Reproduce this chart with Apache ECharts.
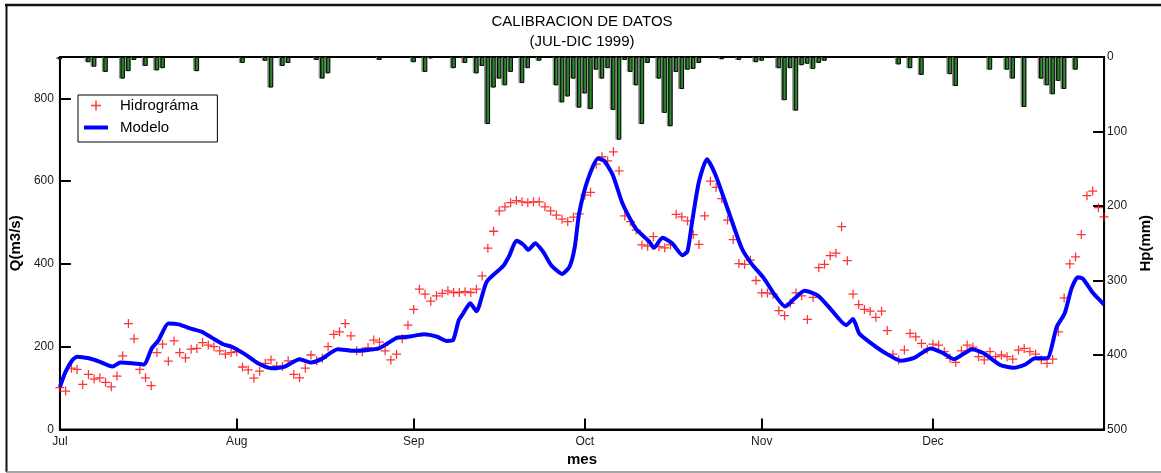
<!DOCTYPE html>
<html>
<head>
<meta charset="utf-8">
<script src="https://cdn.jsdelivr.net/npm/echarts@6/dist/echarts.min.js"></script>
<style>
  html, body { margin: 0; padding: 0; background: #fff; }
  #chart { width: 1161px; height: 473px; }
</style>
</head>
<body>
<div id="chart"></div>
<script>
// Day index counted from 1 July 1999 (0) to 31 December 1999 (183)
const monthStarts = [0, 31, 62, 92, 123, 153];
const monthNames = ['Jul', 'Aug', 'Sep', 'Oct', 'Nov', 'Dec'];
const qTicks = [0, 200, 400, 600, 800];

// Observed discharge (m3/s), one value per day
const observedQ = [
  101, 93, 148, 145, 109, 133, 122, 125, 114, 103,
  129, 178, 256, 219, 145, 125, 106, 186, 206, 165,
  214, 186, 173, 194, 196, 210, 204, 200, 190, 182,
  186, 188, 151, 144, 124, 141, 160, 168, 154, 152,
  166, 133, 125, 148, 180, 166, 172, 200, 230, 236,
  256, 226, 190, 188, 198, 216, 211, 190, 168, 182,
  219, 252, 290, 339, 327, 310, 323, 329, 335, 331,
  331, 333, 331, 339, 371, 438, 479, 528, 538, 548,
  553, 550, 548, 550, 550, 538, 528, 518, 508, 502,
  513, 521, 566, 573, 641, 659, 649, 671, 625, 516,
  502, 482, 446, 443, 466, 442, 439, 446, 520, 514,
  504, 471, 447, 516, 600, 585, 558, 506, 459, 401,
  399, 409, 360, 330, 330, 327, 287, 275, 305, 330,
  323, 266, 319, 391, 399, 420, 426, 490, 408, 327,
  302, 290, 286, 271, 286, 239, 182, 168, 192, 232,
  224, 208, 194, 206, 204, 188, 172, 162, 190, 204,
  199, 176, 168, 188, 176, 180, 176, 170, 192, 196,
  188, 182, 168, 160, 170, 236, 318, 400, 417, 471,
  565, 576, 536, 514
];

// Simulated discharge (m3/s): day positions and values
const modelDays = [
  0, 1, 2.2, 3, 5.1, 6.9, 9.2, 10.6, 12.7, 14.7,
  16.1, 17.3, 19, 20.8, 23.1, 24.9, 26.6, 28.6, 30.1, 32.4,
  34.7, 37.1, 39.4, 42, 44, 45.8, 48.7, 51.6, 53.9, 55.9,
  57.4, 59.1, 61, 63.8, 66.1, 67.8, 68.9, 69.9, 70.7, 71.9,
  73, 74.8, 77.7, 78.8, 80, 81.2, 82.1, 83.3, 84.7, 86.1,
  88, 89.3, 90.2, 91, 92.5, 94.3, 95.4, 96.9, 98.6, 100.9,
  103.3, 104.1, 105.6, 107.3, 109.1, 110, 110.8, 112, 113.4, 114.9,
  117.2, 119.5, 121.3, 123.3, 125.3, 127.1, 128.8, 130.5, 132.9, 135.2,
  137.8, 139, 140.1, 142.2, 144.5, 147.4, 149.7, 152.6, 154.6, 156.7,
  159.9, 161.9, 164.8, 167.1, 169.2, 170.9, 173, 174.7, 176.1, 177.3,
  178.4, 179.3, 181.1, 183
];
const modelQ = [
  103, 140, 168, 176, 172, 164, 152, 162, 160, 157,
  196, 216, 256, 254, 243, 236, 222, 206, 200, 182,
  160, 148, 152, 170, 162, 170, 194, 190, 192, 196,
  208, 222, 224, 230, 224, 214, 216, 264, 281, 305,
  286, 357, 395, 421, 456, 447, 434, 450, 429, 397,
  376, 393, 438, 522, 603, 655, 649, 615, 546, 486,
  454, 439, 463, 450, 421, 431, 502, 599, 653, 615,
  526, 438, 399, 367, 325, 297, 317, 335, 323, 289,
  252, 267, 232, 208, 186, 166, 173, 196, 186, 170,
  194, 184, 156, 149, 157, 172, 172, 248, 281, 341,
  368, 364, 329, 302
];

// Daily precipitation (mm) on rainy days
const rainDays = [
  0, 5, 6, 8, 11, 12, 13, 15, 17, 18,
  24, 32, 36, 37, 39, 40, 45, 46, 47, 56,
  62, 64, 65, 69, 71, 73, 74, 75, 76, 77,
  78, 79, 81, 82, 84, 87, 88, 89, 90, 91,
  92, 93, 94, 95, 96, 97, 98, 99, 100, 101,
  102, 103, 105, 106, 107, 108, 109, 110, 111, 112,
  116, 119, 122, 123, 126, 127, 128, 129, 130, 131,
  132, 133, 134, 147, 149, 151, 156, 157, 163, 166,
  167, 169, 172, 173, 174, 175, 176, 178
];
const rainMm = [
  3, 7, 13, 20, 29, 19, 4, 12, 18, 15,
  19, 8, 5, 41, 12, 8, 4, 29, 22, 4,
  7, 20, 2, 15, 8, 22, 12, 90, 41, 29,
  38, 20, 35, 15, 5, 38, 61, 53, 29, 68,
  49, 70, 17, 29, 15, 71, 111, 4, 20, 38,
  90, 8, 29, 75, 93, 20, 43, 17, 16, 8,
  3, 4, 7, 5, 15, 58, 15, 72, 11, 9,
  16, 8, 5, 10, 15, 24, 23, 39, 17, 17,
  29, 67, 29, 38, 50, 32, 43, 17
];

const plusPath = 'path://M4.3,0H5.7V4.3H10V5.7H5.7V10H4.3V5.7H0V4.3H4.3Z';
const lineIcon = 'path://M0,0H24V4H0Z';
const font = 'Liberation Sans, Arial, sans-serif';

const chart = echarts.init(document.getElementById('chart'), null, { renderer: 'canvas' });

chart.setOption({
  backgroundColor: '#fff',
  animation: false,
  textStyle: { fontFamily: font },
  title: [
    { text: 'CALIBRACION DE DATOS', left: 582, top: 14, textAlign: 'center', padding: 0,
      textStyle: { fontFamily: font, fontSize: 15, fontWeight: 'normal', color: '#000' } },
    { text: '(JUL-DIC 1999)', left: 582, top: 34, textAlign: 'center', padding: 0,
      textStyle: { fontFamily: font, fontSize: 15, fontWeight: 'normal', color: '#000' } }
  ],
  legend: {
    left: 78, top: 95,
    orient: 'vertical',
    padding: [3, 19, 7, 6],
    itemGap: 7,
    itemWidth: 24, itemHeight: 10,
    borderColor: '#000', borderWidth: 1,
    backgroundColor: '#fff',
    textStyle: { fontFamily: font, fontSize: 15, color: '#000', padding: [0, 0, 0, 7] },
    data: [
      { name: 'Hidrográma', icon: plusPath, itemStyle: { color: '#ff0000' } },
      { name: 'Modelo', icon: lineIcon, itemStyle: { color: '#0000ff' } }
    ]
  },
  grid: {
    left: 59, right: 52, top: 57, bottom: 43.5,
    show: true, borderColor: '#000', borderWidth: 2, backgroundColor: 'transparent'
  },
  xAxis: {
    type: 'value', min: 0, max: 183,
    name: 'mes', nameLocation: 'middle', nameGap: 23,
    nameTextStyle: { fontFamily: font, fontSize: 15, fontWeight: 'bold', color: '#000' },
    axisLine: { lineStyle: { color: '#000', width: 2 } },
    axisTick: { inside: true, length: 11, customValues: monthStarts, lineStyle: { color: '#000', width: 2 } },
    axisLabel: {
      customValues: monthStarts, margin: 6, fontSize: 12, color: '#1a1a1a',
      formatter: v => monthNames[monthStarts.indexOf(v)]
    },
    splitLine: { show: false }
  },
  yAxis: [
    {
      type: 'value', min: 0, max: 900, position: 'left',
      name: 'Q(m3/s)', nameLocation: 'middle', nameGap: 31, nameRotate: 90,
      nameTextStyle: { fontFamily: font, fontSize: 15, fontWeight: 'bold', color: '#000' },
      axisLine: { show: true, lineStyle: { color: '#000', width: 2 } },
      axisTick: { show: true, inside: true, length: 11, customValues: qTicks, lineStyle: { color: '#000', width: 2 } },
      axisLabel: { customValues: qTicks, margin: 6, fontSize: 12, color: '#1a1a1a' },
      splitLine: { show: false }
    },
    {
      type: 'value', min: 0, max: 500, interval: 100, inverse: true, position: 'right',
      name: 'Hp(mm)', nameLocation: 'middle', nameGap: 30, nameRotate: 90,
      nameTextStyle: { fontFamily: font, fontSize: 15, fontWeight: 'bold', color: '#000' },
      axisLine: { show: true, lineStyle: { color: '#000', width: 2 } },
      axisTick: { show: true, inside: true, length: 11, lineStyle: { color: '#000', width: 2 } },
      axisLabel: { margin: 3, fontSize: 12, color: '#1a1a1a' },
      splitLine: { show: false }
    }
  ],
  series: [
    {
      name: 'Hp', type: 'bar', xAxisIndex: 0, yAxisIndex: 1,
      barWidth: 4.5,
      data: rainDays.map((d, i) => [d, rainMm[i]]),
      itemStyle: {
        color: '#008000', borderColor: '#000', borderWidth: 1,
        shadowColor: 'rgba(120,120,120,0.7)', shadowBlur: 0, shadowOffsetX: -1.5
      }
    },
    {
      name: 'Hidrográma', type: 'scatter', xAxisIndex: 0, yAxisIndex: 0,
      symbol: plusPath, symbolSize: 9,
      data: observedQ.map((q, i) => [i, q]),
      itemStyle: { color: '#ff0000' }
    },
    {
      name: 'Modelo', type: 'line', xAxisIndex: 0, yAxisIndex: 0,
      symbol: 'none', smooth: 0.2,
      data: modelDays.map((d, i) => [d, modelQ[i]]),
      lineStyle: { color: '#0000ff', width: 4 },
      itemStyle: { color: '#0000ff' }
    }
  ],
  graphic: [
    { type: 'line', shape: { x1: 5, y1: 5, x2: 1161, y2: 5 }, style: { stroke: '#111', lineWidth: 2.5 } },
    { type: 'line', shape: { x1: 6.5, y1: 4, x2: 6.5, y2: 472 }, style: { stroke: '#111', lineWidth: 2 } },
    { type: 'line', shape: { x1: 6, y1: 472, x2: 1161, y2: 472 }, style: { stroke: '#888', lineWidth: 1.5 } }
  ]
});
</script>
</body>
</html>
